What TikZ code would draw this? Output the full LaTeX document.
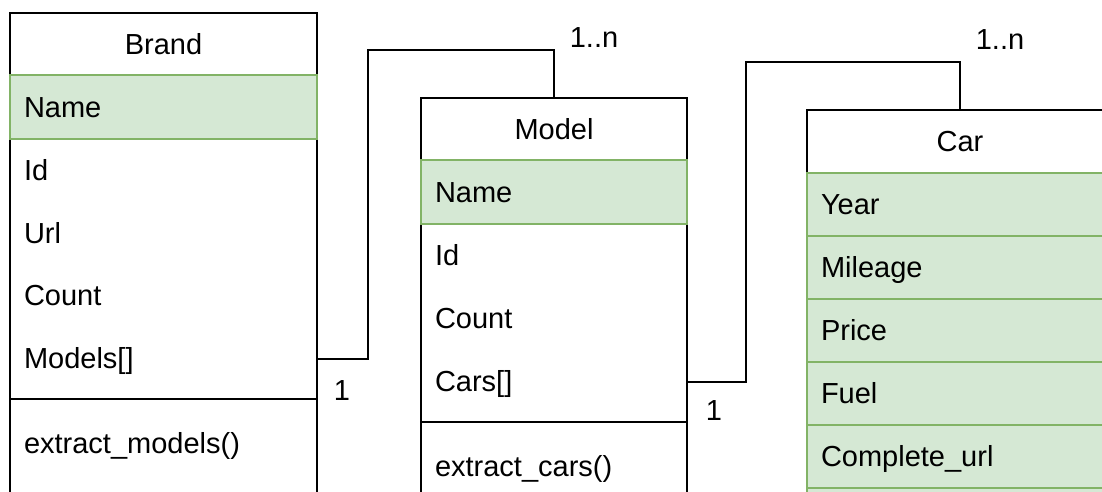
\documentclass[tikz,border=0pt]{standalone}
\usepackage{fontspec}
\setmainfont{Liberation Sans}
\definecolor{rowfill}{HTML}{D5E8D4}
\definecolor{rowline}{HTML}{82B366}
\tikzset{
  umlfont/.style={font=\fontsize{29}{34}\selectfont},
  outline/.style={draw=black, line width=2pt, fill=white, anchor=north west, inner sep=0pt, outer sep=0pt},
  row/.style={umlfont, anchor=north west, minimum height=63pt, inner xsep=14pt, inner ysep=0pt,
              outer sep=0pt, align=left, text height=20.5pt, text depth=0pt},
  greenrow/.style={row, draw=rowline, fill=rowfill, line width=2pt},
  headrow/.style={row, align=center},
  sepline/.style={draw=black, line width=2pt},
  wire/.style={draw=black, line width=2pt},
  mult/.style={umlfont, inner sep=0pt, anchor=center, text height=20.5pt, text depth=0pt},
}
\begin{document}
\begin{tikzpicture}[x=1pt,y=-1pt]
\useasboundingbox (0,0) rectangle (1102,491);
\clip (0,0) rectangle (1102,491);
\fill[white] (0,0) rectangle (1102,491);

% ---------- Brand ----------
\node[outline, minimum width=307pt, minimum height=560pt] (brand) at (10,13) {};
\node[headrow, text width=279pt, minimum height=62pt] (brandh) at (10,13) {Brand};
\node[greenrow, text width=279pt, minimum height=64pt] (bname) at (10,75) {Name};
\node[row, text width=279pt] (bid) at (10,139) {Id};
\node[row, text width=279pt] (burl) at (10,202) {Url};
\node[row, text width=279pt] (bcount) at (10,264) {Count};
\node[row, text width=279pt] (bmodels) at (10,327) {Models[]};
\node[row, text width=279pt, minimum height=88pt] (bmeth) at (10,399) {extract\_models()};
\draw[sepline] (bmeth.north west) -- (bmeth.north east);

% ---------- Model ----------
\node[outline, minimum width=266pt, minimum height=560pt] (model) at (421,98) {};
\node[headrow, text width=238pt, minimum height=62pt] (modelh) at (421,98) {Model};
\node[greenrow, text width=238pt, minimum height=64pt] (mname) at (421,160) {Name};
\node[row, text width=238pt] (mid) at (421,224) {Id};
\node[row, text width=238pt] (mcount) at (421,287) {Count};
\node[row, text width=238pt] (mcars) at (421,350) {Cars[]};
\node[row, text width=238pt, minimum height=88pt] (mmeth) at (421,422) {extract\_cars()};
\draw[sepline] (mmeth.north west) -- (mmeth.north east);

% ---------- Car ----------
\node[outline, minimum width=306pt, minimum height=560pt] (car) at (807,110) {};
\node[headrow, text width=278pt] (carh) at (807,110) {Car};
\node[greenrow, text width=278pt] (cyear) at (807,173) {Year};
\node[greenrow, text width=278pt] (cmileage) at (807,236) {Mileage};
\node[greenrow, text width=278pt] (cprice) at (807,299) {Price};
\node[greenrow, text width=278pt] (cfuel) at (807,362) {Fuel};
\node[greenrow, text width=278pt] (curl) at (807,425) {Complete\_url};
\node[greenrow, text width=278pt] (cnext) at (807,488) {};

% ---------- Connectors ----------
\coordinate (k1) at (368,50);
\coordinate (k2) at (746,62);
\draw[wire] (bmodels.east) -| (k1) -| (model.north);
\draw[wire] (mcars.east) -| (k2) -| (car.north);

\node[mult] (l1a) at (342,390) {1};
\node[mult] (l1b) at (594,37) {1..n};
\node[mult] (l2a) at (714,410) {1};
\node[mult] (l2b) at (1000,39) {1..n};
\end{tikzpicture}
\end{document}
